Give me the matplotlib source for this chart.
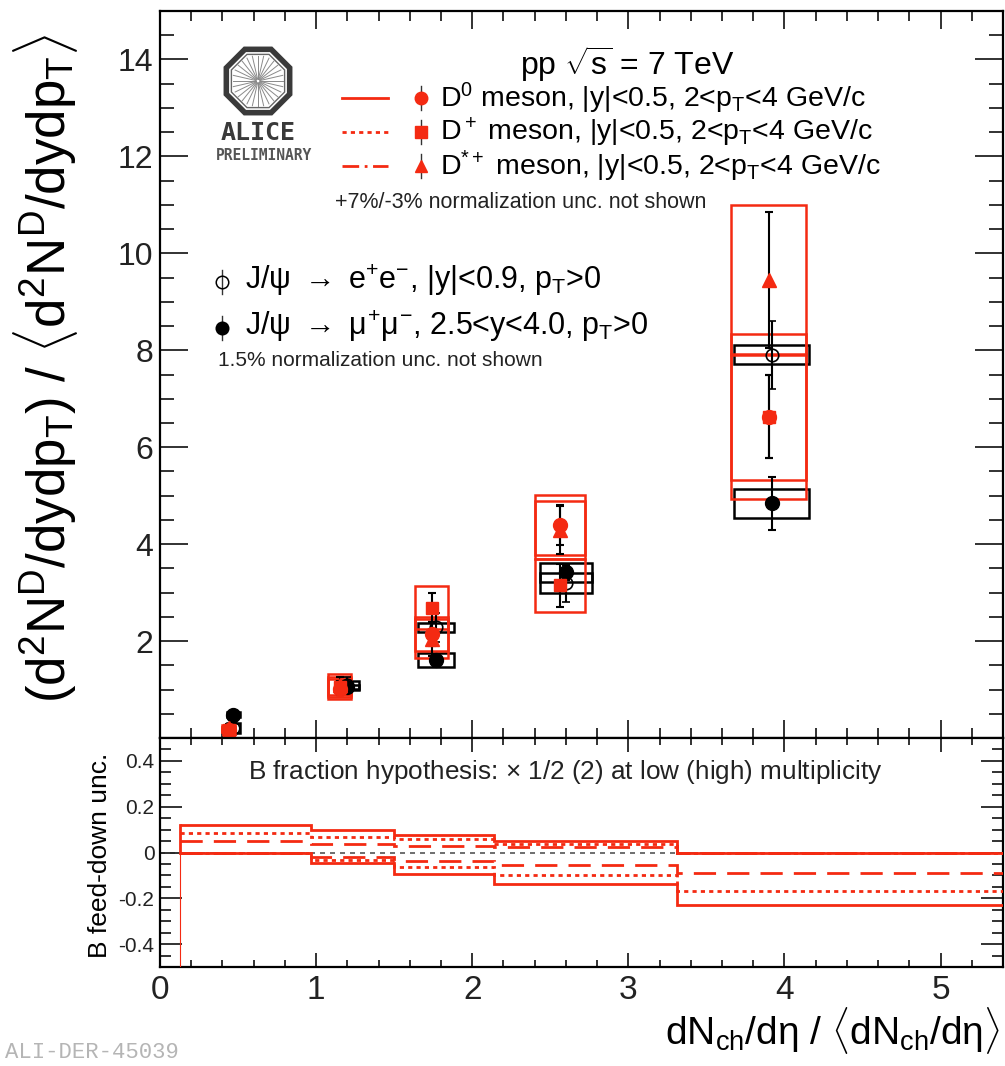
import numpy as np
import matplotlib
matplotlib.use("Agg")
import matplotlib.pyplot as plt
from matplotlib.patches import RegularPolygon
from matplotlib.lines import Line2D

plt.rcParams['font.family'] = ['Liberation Sans', 'DejaVu Sans']
plt.rcParams['mathtext.fontset'] = 'custom'
plt.rcParams['mathtext.rm'] = 'Liberation Sans'
plt.rcParams['mathtext.it'] = 'Liberation Sans'
plt.rcParams['mathtext.bf'] = 'Liberation Sans:bold'

# ---------------- data ----------------
x_D = [0.44, 1.15, 1.74, 2.56, 3.90]
dx_D = [0.04, 0.075, 0.105, 0.16, 0.24]
x_J = [0.47, 1.20, 1.77, 2.60, 3.92]
dx_J = [0.04, 0.075, 0.115, 0.165, 0.24]

d0 = [0.17, 1.01, 2.15, 4.39, 6.63]
d0_stat = [0.05, 0.12, 0.25, 0.40, 0.85]
d0_syst = [0.05, 0.20, 0.35, 0.62, 1.70]

dplus = [0.17, 1.05, 2.69, 3.15, 6.63]
dplus_stat = [0.05, 0.12, 0.30, 0.45, 0.85]
dplus_syst = [0.05, 0.20, 0.45, 0.55, 1.30]

dstar = [0.20, 1.10, 2.05, 4.30, 9.45]
dstar_stat = [0.08, 0.15, 0.35, 0.50, 1.40]
dstar_syst = [0.06, 0.22, 0.40, 0.60, 1.55]

jee = [0.20, 1.10, 2.28, 3.20, 7.91]
jee_stat = [0.10, 0.15, 0.30, 0.40, 0.70]
jee_syst = [0.10, 0.08, 0.10, 0.20, 0.20]

jmm = [0.48, 1.05, 1.61, 3.42, 4.84]
jmm_stat = [0.03, 0.06, 0.08, 0.15, 0.55]
jmm_syst = [0.05, 0.05, 0.15, 0.20, 0.30]

# B feed-down uncertainty histograms
bin_edges = [0.13, 0.97, 1.50, 2.14, 3.31, 5.4]
fd_solid_up = [0.12, 0.098, 0.075, 0.05, 0.0]
fd_solid_lo = [0.0, -0.046, -0.094, -0.137, -0.231]
fd_dot_up = [0.087, 0.069, 0.058, 0.036, 0.0]
fd_dot_lo = [0.0, -0.032, -0.065, -0.098, -0.17]
fd_dash_up = [0.05, 0.036, 0.029, 0.026, 0.0]
fd_dash_lo = [0.0, -0.02, -0.036, -0.055, -0.091]

RED = "#f42a12"
W, H = 1005, 1066
fig = plt.figure(figsize=(W / 100, H / 100), dpi=100)

L, R = 160, 1003
T1, B1, B2 = 11, 738, 967
ax = fig.add_axes([L / W, 1 - B1 / H, (R - L) / W, (B1 - T1) / H])
axb = fig.add_axes([L / W, 1 - B2 / H, (R - L) / W, (B2 - B1) / H], sharex=ax)

ax.set_xlim(0, 5.4)
ax.set_ylim(0, 15)
axb.set_ylim(-0.5, 0.5)

for a in (ax, axb):
    for s in a.spines.values():
        s.set_linewidth(1.6)
    a.tick_params(which='both', direction='in', top=True, right=True, width=1.3, colors='#222222')
    a.xaxis.set_major_locator(matplotlib.ticker.MultipleLocator(1))
    a.xaxis.set_minor_locator(matplotlib.ticker.MultipleLocator(0.2))

ax.yaxis.set_major_locator(matplotlib.ticker.FixedLocator([2, 4, 6, 8, 10, 12, 14]))
ax.yaxis.set_minor_locator(matplotlib.ticker.MultipleLocator(0.5))
ax.tick_params(axis='y', which='major', length=20, labelsize=23, pad=5)
ax.tick_params(axis='y', which='minor', length=10)
ax.tick_params(axis='x', which='major', length=13, labelbottom=False)
ax.tick_params(axis='x', which='minor', length=7)
axb.yaxis.set_major_locator(matplotlib.ticker.FixedLocator([-0.4, -0.2, 0, 0.2, 0.4]))
axb.yaxis.set_minor_locator(matplotlib.ticker.MultipleLocator(0.05))
axb.yaxis.set_major_formatter(matplotlib.ticker.FuncFormatter(lambda v, p: ("%g" % round(v, 2))))
axb.tick_params(axis='y', which='major', length=16, labelsize=15, pad=4)
axb.tick_params(axis='y', which='minor', length=8)
axb.tick_params(axis='x', which='major', length=10, labelsize=24, pad=6)
axb.tick_params(axis='x', which='minor', length=5)

# ---------------- systematic boxes ----------------
def boxes(a, x, dx, y, sy, color, lw=1.8, z=2):
    a.bar(x, [2 * s for s in sy], width=[2 * d for d in dx],
          bottom=[v - s for v, s in zip(y, sy)], fill=False,
          edgecolor=color, linewidth=lw, zorder=z)

boxes(ax, x_J, dx_J, jee, jee_syst, 'black', z=2)
boxes(ax, x_J, dx_J, jmm, jmm_syst, 'black', z=2)
boxes(ax, x_D, dx_D, dstar, dstar_syst, RED, z=3)
boxes(ax, x_D, dx_D, dplus, dplus_syst, RED, z=3)
boxes(ax, x_D, dx_D, d0, d0_syst, RED, z=3)

# ---------------- points with stat errors ----------------
ekw = dict(ecolor='black', elinewidth=1.5, capsize=3, capthick=1.5, linestyle='none', zorder=5)
ax.errorbar(x_J, jmm, yerr=jmm_stat, marker='o', ms=10, mfc='black', mec='black', **ekw)
ax.errorbar(x_J, jee, yerr=jee_stat, marker='o', ms=9, mfc='none', mec='black', mew=1.2, **ekw)
ax.errorbar(x_D, dstar, yerr=dstar_stat, marker='^', ms=10, mfc=RED, mec=RED, **ekw)
ax.errorbar(x_D, dplus, yerr=dplus_stat, marker='s', ms=9, mfc=RED, mec=RED, **ekw)
ax.errorbar(x_D, d0, yerr=d0_stat, marker='o', ms=10, mfc=RED, mec=RED, **ekw)

# ---------------- legend (manual, ROOT style) ----------------
def fx(px):
    return (px - L) / (R - L)

def fy(py):
    return (B1 - py) / (B1 - T1)

tr = ax.transAxes
ax.text(fx(520), fy(64), r"pp $\sqrt{s}$ = 7 TeV", transform=tr, fontsize=23, va='center', ha='left')
rows = [98, 132, 166]
styles = ['-', (0, (1.5, 1.5)), (0, (6, 2, 1, 2))]
mks = ['o', 's', '^']
labels = [r"D$^0$ meson, |y|<0.5, 2<p$_\mathrm{T}$<4 GeV/c",
          r"D$^+$ meson, |y|<0.5, 2<p$_\mathrm{T}$<4 GeV/c",
          r"D$^{*+}$ meson, |y|<0.5, 2<p$_\mathrm{T}$<4 GeV/c"]
for r, ls, m, lab in zip(rows, styles, mks, labels):
    ax.add_line(Line2D([fx(342), fx(388)], [fy(r), fy(r)], transform=tr, color=RED, lw=2, ls=ls))
    ax.add_line(Line2D([fx(421), fx(421)], [fy(r - 12), fy(r + 12)], transform=tr, color='#333333', lw=1))
    ax.add_line(Line2D([fx(421)], [fy(r)], transform=tr, marker=m, ms=9, mfc=RED, mec=RED, ls='none'))
    ax.text(fx(440), fy(r), lab, transform=tr, fontsize=20.5, va='center', ha='left')
ax.text(fx(335), fy(203), "+7%/-3% normalization unc. not shown", transform=tr, fontsize=15.5,
        va='center', ha='left', color='#222222')

jrows = [282, 328]
jlabels = [r"J/$\psi$ $\rightarrow$ e$^{+}$e$^{-}$, |y|<0.9, p$_\mathrm{T}$>0",
           r"J/$\psi$ $\rightarrow$ $\mu^{+}\mu^{-}$, 2.5<y<4.0, p$_\mathrm{T}$>0"]
jfill = ['none', 'black']
for r, lab, f in zip(jrows, jlabels, jfill):
    ax.add_line(Line2D([fx(222), fx(222)], [fy(r - 12), fy(r + 12)], transform=tr, color='#333333', lw=1))
    ax.add_line(Line2D([fx(222)], [fy(r)], transform=tr, marker='o', ms=9, mfc=f, mec='black',
                       mew=1.1, ls='none'))
    ax.text(fx(245), fy(r - 2), lab, transform=tr, fontsize=22, va='center', ha='left')
ax.text(fx(218), fy(361), "1.5% normalization unc. not shown", transform=tr, fontsize=15,
        va='center', ha='left', color='#222222')

# ---------------- ALICE logo ----------------
lax = fig.add_axes([222 / W, 1 - 118 / H, 72 / W, 74 / H])
lax.set_xlim(-1.05, 1.05)
lax.set_ylim(-1.05, 1.05)
lax.set_aspect('equal')
lax.axis('off')
lax.add_patch(RegularPolygon((0, 0), 8, radius=1.0, orientation=np.pi / 8, fill=False,
                             ec='#3a3a3a', lw=4.0))
lax.add_patch(RegularPolygon((0, 0), 8, radius=0.84, orientation=np.pi / 8, fill=False,
                             ec='#666666', lw=1.0))
for ang in np.linspace(0, 2 * np.pi, 28, endpoint=False):
    lax.plot([0.06 * np.cos(ang), 0.74 * np.cos(ang)], [0.06 * np.sin(ang), 0.74 * np.sin(ang)],
             color='#8a8a8a', lw=0.7)
fig.text(258 / W, 1 - 133 / H, "ALICE", fontsize=18, color='#3a3a3a', ha='center', va='center',
         family='DejaVu Sans Mono', fontweight='bold')
fig.text(264 / W, 1 - 156 / H, "PRELIMINARY", fontsize=10.5, color='#555555', ha='center', va='center',
         family='DejaVu Sans Mono', fontweight='bold')

# ---------------- bottom panel ----------------
axb.axhline(0, color='#555555', lw=1.2, ls=(0, (3, 3)), zorder=1)
def hist(y, ls, lw=2.0):
    axb.stairs(y, bin_edges, color=RED, lw=lw, ls=ls, baseline=None, zorder=3)
hist(fd_solid_up, '-')
hist(fd_solid_lo, '-')
hist(fd_dot_up, (0, (1.5, 1.5)))
hist(fd_dot_lo, (0, (1.5, 1.5)))
hist(fd_dash_up, (0, (8, 4)))
hist(fd_dash_lo, (0, (8, 4)))
axb.plot([bin_edges[0], bin_edges[0]], [-0.5, 0.0], color=RED, lw=0.8, zorder=3)
axb.plot([bin_edges[0], bin_edges[0]], [0.0, fd_solid_up[0]], color=RED, lw=2.0, zorder=3)
axb.text((248 - L) / (R - L), 0.85, r"B fraction hypothesis: $\times$ 1/2 (2) at low (high) multiplicity",
         transform=axb.transAxes, fontsize=18.8, va='center', ha='left', color='#222222')

# ---------------- axis titles ----------------
fig.text(46 / W, 1 - 368 / H,
         r"(d$^2$N$^\mathrm{D}$/dydp$_\mathrm{T}$) / $\langle$d$^2$N$^\mathrm{D}$/dydp$_\mathrm{T}\rangle$",
         rotation=90, fontsize=38, ha='center', va='center')
fig.text(100 / W, 1 - 855 / H, "B feed-down unc.", rotation=90, fontsize=19, ha='center', va='center')
fig.text(1000 / W, 1 - 1030 / H,
         r"dN$_\mathrm{ch}$/d$\eta$ / $\langle$dN$_\mathrm{ch}$/d$\eta\rangle$",
         fontsize=28, ha='right', va='center')
fig.text(5 / W, 1 - 1053 / H, "ALI-DER-45039", fontsize=16, color='#b5b5b5', ha='left', va='center',
         family='Liberation Mono')

fig.savefig("out.png", dpi=100)
